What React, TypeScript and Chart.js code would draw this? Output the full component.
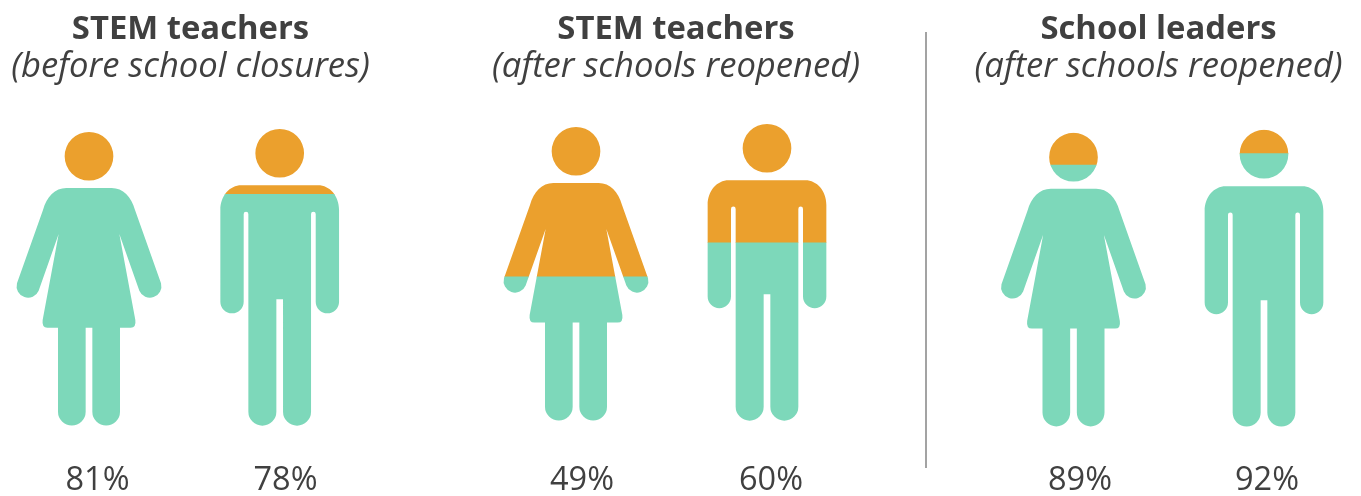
import React, { useEffect, useRef } from "react";
import { Chart, registerables } from "chart.js";

Chart.register(...registerables);

// ---- data ----
const tickLabels = ["81%", "78%", "49%", "60%", "89%", "92%"];
const shares = [81, 78, 49, 60, 89, 92];
const figures = ["woman", "man", "woman", "man", "woman", "man"];
const titleLines = [
  ["STEM teachers", "(before school closures)"],
  ["STEM teachers", "(after schools reopened)"],
  ["School leaders", "(after schools reopened)"],
];

// ---- layout and style ----
const WIDTH = 1361;
const HEIGHT = 496;
const figureCentres = [89, 279.7, 576, 767, 1073.5, 1264];
const labelCentres = [97.5, 285.5, 582, 771, 1080, 1267];
const figureLifts = [0, 0, 1.7, 1.7, -0.3, -0.3]; // in axis units
const figureSizes: Record<string, number> = { woman: 0.99, man: 1 };
const titleCentres = [190.5, 676, 1158.5];
const FILL = "#7dd8ba";
const REST = "#eba02d";
const FONT = "'Open Sans'";
const TEXT = "#404040";

const silhouettes: Record<string, string> = {
  woman:
    "M73,-809A73,73 0 1 1 -73,-809A73,73 0 1 1 73,-809Z" +
    "M0,-714L68,-714C102,-714 127,-688 138,-648L216,-428A34.4,34.4 0 0 1 151,-406L91,-576L139,-318" +
    "Q142,-295 125,-295L93,-295L93,-43A41.5,41.5 0 0 1 10,-43L10,-295L-10,-295L-10,-43A41.5,41.5 0 0 1 -93,-43" +
    "L-93,-295L-125,-295Q-142,-295 -139,-318L-91,-576L-151,-406A34.4,34.4 0 0 1 -216,-428L-138,-648" +
    "C-127,-688 -102,-714 -68,-714Z",
  man:
    "M73,-818A73,73 0 1 1 -73,-818A73,73 0 1 1 73,-818Z" +
    "M0,-722L115,-722C150,-722 178,-690 178,-648L178,-373A35,35 0 0 1 108,-373L108,-636A7,7 0 0 0 94,-636" +
    "L94,-43A42,42 0 0 1 10,-43L10,-380L-10,-380L-10,-43A42,42 0 0 1 -94,-43L-94,-636A7,7 0 0 0 -108,-636" +
    "L-108,-373A35,35 0 0 1 -178,-373L-178,-648C-178,-690 -150,-722 -115,-722Z",
};

const filledBars = shares.map((s, i) => ({
  x: figureCentres[i],
  y: [figureLifts[i], figureLifts[i] + s * figureSizes[figures[i]]],
}));
const restBars = shares.map((s, i) => ({
  x: figureCentres[i],
  y: [figureLifts[i] + s * figureSizes[figures[i]], figureLifts[i] + 100 * figureSizes[figures[i]]],
}));

const silhouetteClip = {
  id: "silhouetteClip",
  beforeDatasetsDraw(chart: any) {
    const { x, y } = chart.scales;
    const unit = Math.abs(y.getPixelForValue(100) - y.getPixelForValue(0)) / 100;
    const all = new Path2D();
    figures.forEach((kind, i) => {
      const s = (unit / 2.97) * (1 / 3);
      const m = new DOMMatrix([s, 0, 0, s, x.getPixelForValue(figureCentres[i]), y.getPixelForValue(figureLifts[i])]);
      all.addPath(new Path2D(silhouettes[kind]), m);
    });
    chart.ctx.save();
    chart.ctx.clip(all);
  },
  afterDatasetsDraw(chart: any) {
    chart.ctx.restore();
  },
};

const annotations = {
  id: "annotations",
  afterDraw(chart: any) {
    const { ctx } = chart;
    ctx.save();
    ctx.textAlign = "center";
    ctx.textBaseline = "alphabetic";
    titleLines.forEach((lines, i) => {
      ctx.fillStyle = TEXT;
      ctx.font = `bold 32.8px ${FONT}`;
      ctx.fillText(lines[0], titleCentres[i], 38.5);
      ctx.font = `italic 400 34.6px ${FONT}`;
      ctx.fillText(lines[1], titleCentres[i], 77);
    });
    ctx.strokeStyle = "#a3a3a3";
    ctx.lineWidth = 2;
    ctx.beginPath();
    ctx.moveTo(926, 32);
    ctx.lineTo(926, 468);
    ctx.stroke();
    ctx.restore();
  },
};

export default function App() {
  const ref = useRef<HTMLCanvasElement>(null);
  useEffect(() => {
    const chart = new Chart(ref.current as HTMLCanvasElement, {
      type: "bar",
      data: {
        datasets: [
          { label: "Share", data: filledBars as any, backgroundColor: FILL, grouped: false, barThickness: 170 },
          { label: "Remainder", data: restBars as any, backgroundColor: REST, grouped: false, barThickness: 170 },
        ],
      },
      options: {
        responsive: false,
        animation: false,
        layout: { padding: { top: 123, left: 0, right: 0, bottom: 0 } },
        plugins: { legend: { display: false }, tooltip: { enabled: false } },
        scales: {
          x: {
            type: "linear",
            offset: false,
            min: 0,
            max: WIDTH,
            grid: { display: false, drawTicks: false },
            border: { display: false },
            afterBuildTicks(scale: any) {
              scale.ticks = labelCentres.map((value) => ({ value }));
            },
            afterFit(scale: any) {
              scale.height = HEIGHT - 429;
            },
            ticks: {
              autoSkip: false,
              maxRotation: 0,
              padding: 32,
              color: TEXT,
              font: { family: "'Open Sans'", size: 32.5 },
              callback: (_v: any, i: number) => tickLabels[i],
            },
          },
          y: { type: "linear", min: -1, max: 102, display: false },
        },
      },
      plugins: [silhouetteClip, annotations],
    });
    return () => chart.destroy();
  }, []);
  return (
    <canvas
      ref={ref}
      width={WIDTH}
      height={HEIGHT}
      style={{ position: "fixed", left: 0, top: 0, width: WIDTH, height: HEIGHT }}
    />
  );
}
